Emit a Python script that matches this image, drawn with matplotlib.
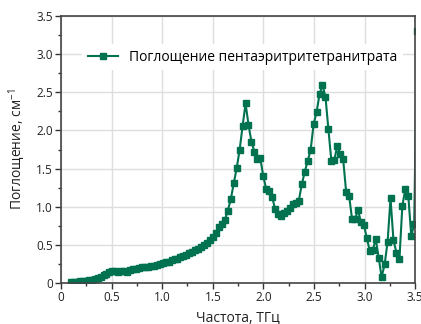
import numpy as np
import matplotlib.pyplot as plt
from matplotlib.ticker import MultipleLocator, FuncFormatter

plt.rcParams['font.family'] = ['Open Sans', 'DejaVu Sans']
plt.rcParams['mathtext.fontset'] = 'custom'
plt.rcParams['mathtext.rm'] = 'Open Sans'
plt.rcParams['mathtext.it'] = 'Open Sans'

# frequency, THz
freq = [0.098, 0.127, 0.157, 0.186, 0.215, 0.244, 0.274, 0.303, 0.332, 0.361,
        0.391, 0.420, 0.449, 0.478, 0.508, 0.537, 0.566, 0.595, 0.625, 0.654,
        0.683, 0.712, 0.742, 0.771, 0.800, 0.829, 0.859, 0.888, 0.917, 0.946,
        0.976, 1.005, 1.034, 1.063, 1.093, 1.122, 1.151, 1.180, 1.210, 1.239,
        1.268, 1.297, 1.327, 1.356, 1.385, 1.414, 1.444, 1.473, 1.502, 1.531,
        1.561, 1.590, 1.619, 1.648, 1.678, 1.707, 1.736, 1.765, 1.795, 1.824,
        1.853, 1.882, 1.912, 1.941, 1.970, 1.999, 2.029, 2.058, 2.087, 2.116,
        2.146, 2.175, 2.204, 2.233, 2.263, 2.292, 2.321, 2.350, 2.380, 2.409,
        2.438, 2.467, 2.497, 2.526, 2.555, 2.584, 2.614, 2.643, 2.672, 2.701,
        2.731, 2.760, 2.789, 2.818, 2.848, 2.877, 2.906, 2.935, 2.965, 2.994,
        3.023, 3.052, 3.082, 3.111, 3.140, 3.169, 3.199, 3.228, 3.257, 3.286,
        3.316, 3.345, 3.374, 3.403, 3.433, 3.462, 3.491, 3.520]

# absorption, cm^-1
absorb = [0.008, 0.012, 0.015, 0.020, 0.024, 0.030, 0.036, 0.045, 0.055, 0.072,
          0.085, 0.100, 0.118, 0.142, 0.160, 0.152, 0.150, 0.158, 0.155, 0.142,
          0.170, 0.182, 0.190, 0.200, 0.212, 0.210, 0.214, 0.218, 0.225, 0.235,
          0.248, 0.260, 0.270, 0.282, 0.298, 0.310, 0.320, 0.338, 0.352, 0.370,
          0.390, 0.408, 0.430, 0.450, 0.478, 0.500, 0.525, 0.560, 0.598, 0.650,
          0.738, 0.780, 0.826, 0.948, 1.097, 1.307, 1.503, 1.743, 2.060, 2.355,
          2.075, 1.852, 1.720, 1.625, 1.634, 1.400, 1.228, 1.210, 1.130, 0.966,
          0.904, 0.878, 0.913, 0.948, 0.979, 1.031, 1.052, 1.079, 1.293, 1.459,
          1.599, 1.743, 2.084, 2.240, 2.473, 2.600, 2.440, 2.014, 1.603, 1.612,
          1.800, 1.687, 1.620, 1.197, 1.140, 0.835, 0.835, 0.957, 0.800, 0.760,
          0.585, 0.423, 0.432, 0.577, 0.332, 0.079, 0.245, 0.541, 1.110, 0.560,
          0.397, 0.315, 1.013, 1.232, 1.136, 0.616, 0.773, 3.300]

green = '#00724f'

fig = plt.figure(figsize=(4.21, 3.24), dpi=100)
ax = fig.add_axes([0.145, 0.1265, 0.841, 0.824])

ax.plot(freq, absorb, color=green, lw=1.5, marker='s', ms=3.8,
        label='Поглощение пентаэритритетранитрата')

ax.set_xlim(0, 3.5)
ax.set_ylim(0, 3.5)
ax.xaxis.set_major_locator(MultipleLocator(0.5))
ax.yaxis.set_major_locator(MultipleLocator(0.5))
ax.xaxis.set_minor_locator(MultipleLocator(0.25))
ax.yaxis.set_minor_locator(MultipleLocator(0.25))
fmt = FuncFormatter(lambda v, p: '0' if abs(v) < 1e-9 else '%.1f' % v)
ax.xaxis.set_major_formatter(fmt)
ax.yaxis.set_major_formatter(fmt)

ax.grid(True, which='major', color='#dedede', lw=1)
ax.set_axisbelow(True)
ax.tick_params(which='major', direction='out', length=4, width=1, color='#333333',
               labelsize=8.5, labelcolor='#222222', pad=2)
ax.tick_params(which='minor', direction='out', length=2, width=1, color='#333333')
for s in ax.spines.values():
    s.set_color('#444444')
    s.set_linewidth(1.2)

ax.set_xlabel('Частота, ТГц', fontsize=10, color='#222222', labelpad=4)
ax.set_ylabel('Поглощение, см$^{-1}$', fontsize=10, color='#222222', labelpad=6)

leg = ax.legend(loc='upper left', bbox_to_anchor=(0.04, 0.92), fontsize=10,
                frameon=True, fancybox=False, handlelength=2.2, borderpad=0.4)
leg.get_frame().set_facecolor('white')
leg.get_frame().set_edgecolor('none')
leg.get_frame().set_alpha(1)

fig.savefig('out.png', dpi=100)
